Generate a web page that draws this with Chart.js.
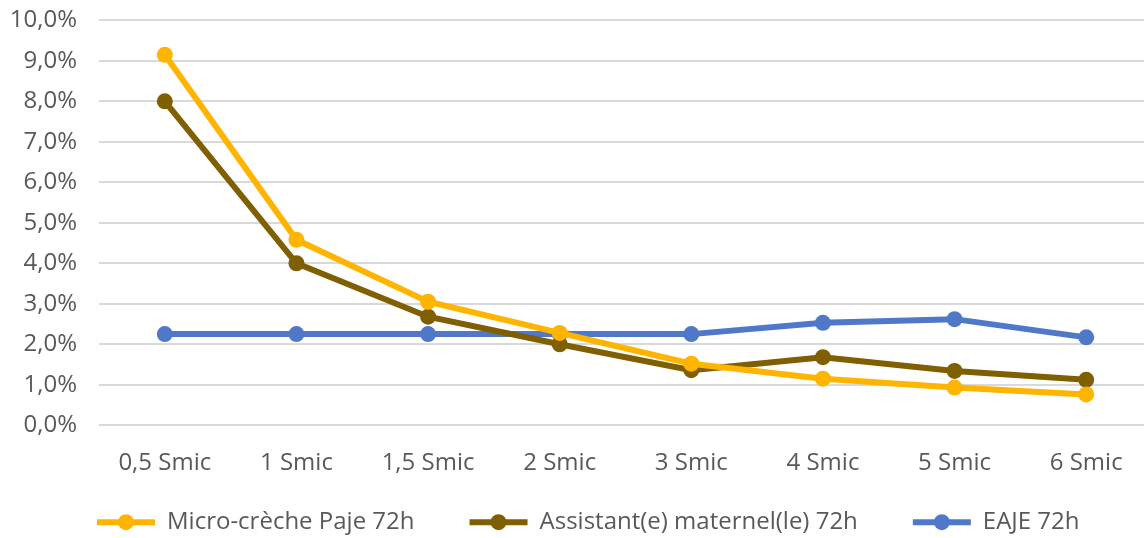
<!DOCTYPE html>
<html>
<head>
<meta charset="utf-8">
<script src="https://cdn.jsdelivr.net/npm/chart.js@4"></script>
<style>
  html, body { margin: 0; padding: 0; background: #fff; overflow: hidden; }
  #wrap { width: 1160px; height: 554px; margin-top: -16px; position: relative; }
</style>
</head>
<body>
<div id="wrap"><canvas id="chart"></canvas></div>
<script>
const categories = ["0,5 Smic", "1 Smic", "1,5 Smic", "2 Smic", "3 Smic", "4 Smic", "5 Smic", "6 Smic"];
const microCreche = [9.15, 4.58, 3.05, 2.28, 1.52, 1.15, 0.93, 0.76];
const assistante = [8.0, 4.0, 2.68, 2.0, 1.36, 1.68, 1.34, 1.12];
const eaje = [2.25, 2.25, 2.25, 2.25, 2.25, 2.53, 2.62, 2.17];
const seriesLabels = ["Micro-crèche Paje 72h", "Assistant(e) maternel(le) 72h", "EAJE 72h"];
const colors = ["#FFB400", "#7F5F00", "#4F78C8"];

const textFont = { family: "Open Sans", size: 24 };

const makeDataset = (i, data) => ({
  label: seriesLabels[i],
  data: data,
  borderColor: colors[i],
  backgroundColor: colors[i],
  borderWidth: 6,
  pointRadius: 8,
  pointHoverRadius: 8,
  pointBorderWidth: 0,
  tension: 0,
});

// legend drawn by hand: line + dot, then label, Excel style
const lineLegend = {
  id: "lineLegend",
  afterDraw(chart) {
    const ctx = chart.ctx;
    const y = chart.chartArea.bottom + 97;
    let x = 97;
    ctx.save();
    ctx.font = textFont.size + "px " + textFont.family;
    ctx.textBaseline = "middle";
    chart.data.datasets.forEach((ds) => {
      ctx.strokeStyle = ds.borderColor;
      ctx.fillStyle = ds.borderColor;
      ctx.lineWidth = 6;
      ctx.beginPath();
      ctx.moveTo(x, y);
      ctx.lineTo(x + 58, y);
      ctx.stroke();
      ctx.beginPath();
      ctx.arc(x + 29, y, 8, 0, Math.PI * 2);
      ctx.fill();
      ctx.fillStyle = "#595959";
      ctx.fillText(ds.label, x + 70, y);
      x += 70 + ctx.measureText(ds.label).width + 55;
    });
    ctx.restore();
  },
};

new Chart(document.getElementById("chart"), {
  type: "line",
  data: {
    labels: categories,
    datasets: [
      makeDataset(0, microCreche),
      makeDataset(1, assistante),
      makeDataset(2, eaje),
    ],
  },
  options: {
    responsive: true,
    maintainAspectRatio: false,
    animation: false,
    layout: { padding: { left: 6, right: 7, top: 0, bottom: 44 } },
    scales: {
      x: {
        offset: true,
        grid: { display: false },
        border: { display: false },
        ticks: {
          color: "#595959",
          font: textFont,
          padding: 16,
          maxRotation: 0,
        },
      },
      y: {
        min: 0,
        max: 10,
        border: { display: false },
        grid: { color: "#d9d9d9", lineWidth: 2, drawTicks: false },
        afterFit: (axis) => { axis.width = 93; },
        ticks: {
          stepSize: 1,
          color: "#595959",
          font: textFont,
          padding: 22,
          callback: (v) => v.toFixed(1).replace(".", ",") + "%",
        },
      },
    },
    plugins: {
      tooltip: { enabled: false },
      legend: { display: false },
    },
  },
  plugins: [lineLegend],
});
</script>
</body>
</html>
